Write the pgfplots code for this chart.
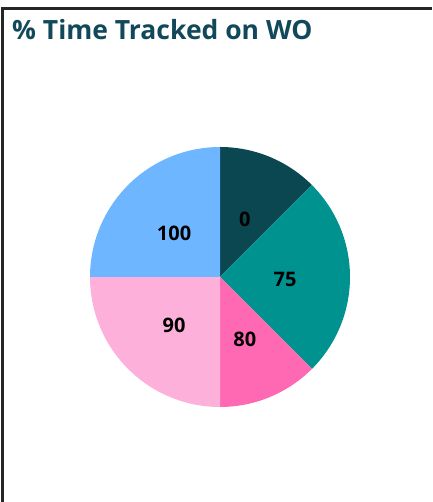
\documentclass[border=0pt]{standalone}
\usepackage{fontspec}
\setmainfont{Open Sans}
\usepackage{pgfplots}
\usepackage{pgfplotstable}
\pgfplotsset{compat=1.18}
\definecolor{c0}{HTML}{0A4750}
\definecolor{c1}{HTML}{00928E}
\definecolor{c2}{HTML}{FF69B4}
\definecolor{c3}{HTML}{FDB0D9}
\definecolor{c4}{HTML}{6EB6FF}
\definecolor{titlecol}{HTML}{12495A}
\pgfplotstableread{
label share color
0 1 c0
75 2 c1
80 1 c2
90 2 c3
100 2 c4
}\piedata
\tikzset{pielab/.style={font=\fontsize{20}{20}\selectfont\bfseries, text=black, yshift=-2.5pt}}
\begin{document}
\begin{tikzpicture}[x=1pt,y=1pt]
\path[use as bounding box] (0,0) rectangle (432,502);
\draw[line width=2.2pt, black!85] (2.5,0) -- (2.5,493.5) -- (432,493.5);
\node[anchor=base west, inner sep=0pt, text=titlecol, font=\fontsize{26.5}{26.5}\selectfont\bfseries] at (12,462) {\% Time Tracked on WO};
\begin{axis}[
  at={(220pt,225pt)}, anchor=center,
  width=338pt, height=338pt, scale only axis,
  xmin=-1.3, xmax=1.3, ymin=-1.3, ymax=1.3,
  hide axis, clip=false,
]
\pgfplotstablegetrowsof{\piedata}
\pgfmathtruncatemacro\N{\pgfplotsretval-1}
\def\total{0}
\pgfplotsforeachungrouped \i in {0,...,\N}{%
  \pgfplotstablegetelem{\i}{share}\of\piedata
  \pgfmathsetmacro\total{\total+\pgfplotsretval}%
}
\def\cum{0}
\pgfplotsforeachungrouped \i in {0,...,\N}{%
  \pgfplotstablegetelem{\i}{share}\of\piedata \let\s\pgfplotsretval
  \pgfplotstablegetelem{\i}{label}\of\piedata \let\lab\pgfplotsretval
  \pgfplotstablegetelem{\i}{color}\of\piedata \let\col\pgfplotsretval
  \pgfmathsetmacro\a{90-360*\cum/\total}%
  \pgfmathsetmacro\b{90-360*(\cum+\s)/\total}%
  \pgfmathsetmacro\m{(\a+\b)/2}%
  \edef\tmp{\noexpand\fill[\col] (axis cs:0,0) -- plot[domain=\a:\b, samples=60, variable=\noexpand\t] ({cos(\noexpand\t)},{sin(\noexpand\t)}) -- cycle;
    \noexpand\node[pielab] at (axis cs:{0.5*cos(\m)},{0.5*sin(\m)}) {\lab};}%
  \tmp
  \pgfmathsetmacro\cum{\cum+\s}%
}
\end{axis}
\end{tikzpicture}
\end{document}
